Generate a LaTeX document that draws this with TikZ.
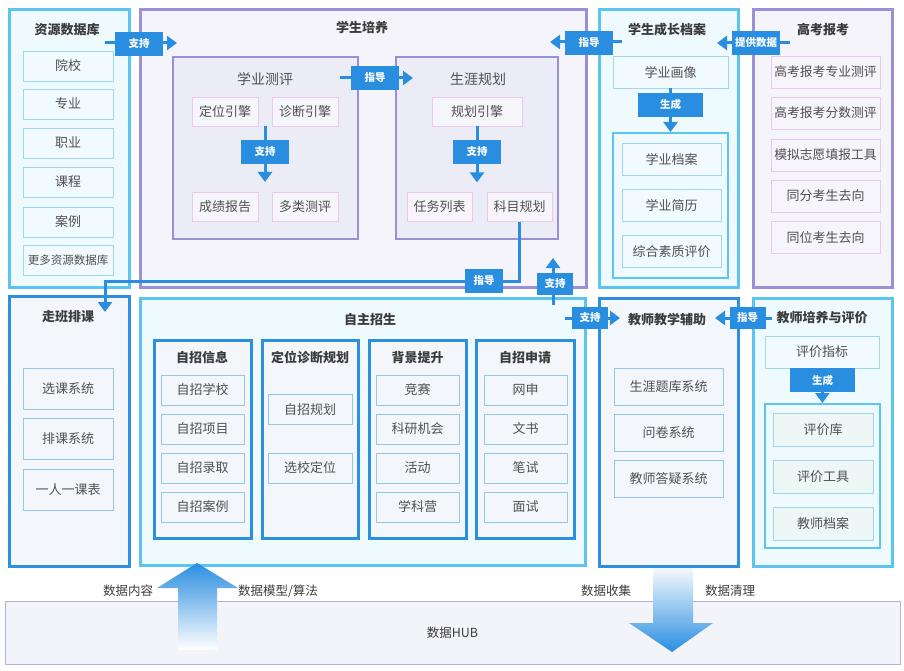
\documentclass[tikz,border=0pt]{standalone}
\usepackage{fontspec}
\setmainfont{Noto Sans CJK SC}
\usetikzlibrary{arrows.meta, positioning, calc}
\definecolor{skyline}{RGB}{91, 197, 242}
\definecolor{skyfill}{RGB}{238, 250, 254}
\definecolor{skyitem}{RGB}{160, 214, 242}
\definecolor{skyitemfill}{RGB}{241, 250, 254}
\definecolor{deepline}{RGB}{44, 143, 224}
\definecolor{deepfill}{RGB}{243, 247, 252}
\definecolor{deepitem}{RGB}{150, 198, 238}
\definecolor{violetline}{RGB}{154, 144, 216}
\definecolor{violetfill}{RGB}{244, 244, 250}
\definecolor{violetinner}{RGB}{236, 236, 246}
\definecolor{pinkline}{RGB}{234, 201, 238}
\definecolor{pinkfill}{RGB}{246, 245, 251}
\definecolor{mintfill}{RGB}{236, 247, 246}
\definecolor{tagblue}{RGB}{42, 142, 224}
\definecolor{textgray}{RGB}{80, 80, 80}
\definecolor{titlegray}{RGB}{60, 60, 60}
\definecolor{hubline}{RGB}{182, 176, 224}
\definecolor{hubfill}{RGB}{243, 243, 250}

\begin{document}
\begin{tikzpicture}[x=1pt, y=-1pt,
    box/.style={rectangle, inner sep=0pt},
    skypanel/.style={box, draw=skyline, fill=skyfill, line width=3pt},
    deeppanel/.style={box, draw=deepline, fill=deepfill, line width=3pt},
    violetpanel/.style={box, draw=violetline, fill=violetfill, line width=3pt},
    violetsub/.style={box, draw=violetline, fill=violetinner, line width=2.5pt},
    skysub/.style={box, draw=skyline, fill=skyfill, line width=2pt},
    deepsub/.style={box, draw=deepline, fill=deepfill, line width=3pt},
    itemtext/.style={text=textgray, font=\fontsize{13}{15}\selectfont},
    pinkitem/.style={box, itemtext, draw=pinkline, fill=pinkfill, line width=0.8pt},
    skyitembox/.style={box, itemtext, draw=skyitem, fill=skyitemfill, line width=0.8pt},
    deepitembox/.style={box, itemtext, draw=deepitem, fill=deepfill, line width=0.8pt},
    heading/.style={text=titlegray, font=\fontsize{13}{15}\selectfont\bfseries},
    subheading/.style={text=textgray, font=\fontsize{14}{16}\selectfont},
    tag/.style={box, fill=tagblue, text=white, font=\fontsize{10.5}{12}\selectfont\bfseries,
        minimum width=48, minimum height=24},
    smalltag/.style={tag, minimum width=36, minimum height=22},
    link/.style={draw=tagblue, line width=3pt, -{Triangle[length=10pt, width=14pt]}},
    note/.style={text=titlegray, font=\fontsize{12.5}{14}\selectfont}]
    \useasboundingbox (0,0) rectangle (904,671);

    % Resource database
    \node[skypanel, minimum width=120, minimum height=277] (res) at (69,148.5) {};
    \node[heading] (resT) at (67,30) {资源数据库};
    \node[skyitembox, minimum width=90, minimum height=30] (r1) at (68,66) {院校};
    \node[skyitembox, minimum width=90, minimum height=30] (r2) at (68,104) {专业};
    \node[skyitembox, minimum width=90, minimum height=30] (r3) at (68,143) {职业};
    \node[skyitembox, minimum width=90, minimum height=30] (r4) at (68,182) {课程};
    \node[skyitembox, minimum width=90, minimum height=30] (r5) at (68,222) {案例};
    \node[skyitembox, minimum width=90, minimum height=30, font=\fontsize{11.5}{13}\selectfont] (r6) at (68,260.5) {更多资源数据库};

    % Student training
    \node[violetpanel, minimum width=446, minimum height=277] (train) at (363,148.5) {};
    \node[heading] (trainT) at (362,28) {学生培养};
    \node[violetsub, minimum width=185, minimum height=182] (eval) at (265.5,148) {};
    \node[subheading] (evalT) at (265,79) {学业测评};
    \node[pinkitem, minimum width=66, minimum height=29] (e1) at (225,111.5) {定位引擎};
    \node[pinkitem, minimum width=66, minimum height=29] (e2) at (305,111.5) {诊断引擎};
    \node[pinkitem, minimum width=66, minimum height=29] (e3) at (225,207) {成绩报告};
    \node[pinkitem, minimum width=66, minimum height=29] (e4) at (305,207) {多类测评};
    \node[violetsub, minimum width=162, minimum height=182] (plan) at (477,148) {};
    \node[subheading] (planT) at (478,79) {生涯规划};
    \node[pinkitem, minimum width=90, minimum height=29] (p1) at (477,111.5) {规划引擎};
    \node[pinkitem, minimum width=65, minimum height=29] (p2) at (439.5,207) {任务列表};
    \node[pinkitem, minimum width=65, minimum height=29] (p3) at (519.5,207) {科目规划};

    % Growth record
    \node[skypanel, minimum width=139, minimum height=277] (grow) at (668.5,148.5) {};
    \node[heading] (growT) at (667,30) {学生成长档案};
    \node[skyitembox, minimum width=115, minimum height=32] (g0) at (670.5,72) {学业画像};
    \node[skysub, minimum width=115, minimum height=145] (gin) at (670.5,205.5) {};
    \node[skyitembox, minimum width=99, minimum height=32] (g1) at (671.5,159) {学业档案};
    \node[skyitembox, minimum width=99, minimum height=32] (g2) at (671.5,205) {学业简历};
    \node[skyitembox, minimum width=99, minimum height=32] (g3) at (671.5,251.5) {综合素质评价};

    % Gaokao application
    \node[violetpanel, minimum width=139, minimum height=277] (gk) at (822.5,148.5) {};
    \node[heading] (gkT) at (823,30) {高考报考};
    \node[pinkitem, minimum width=109, minimum height=32, font=\fontsize{12.8}{15}\selectfont] (k1) at (825.5,72) {高考报考专业测评};
    \node[pinkitem, minimum width=109, minimum height=32, font=\fontsize{12.8}{15}\selectfont] (k2) at (825.5,113) {高考报考分数测评};
    \node[pinkitem, minimum width=109, minimum height=32, font=\fontsize{12.8}{15}\selectfont] (k3) at (825.5,155) {模拟志愿填报工具};
    \node[pinkitem, minimum width=109, minimum height=32] (k4) at (825.5,196) {同分考生去向};
    \node[pinkitem, minimum width=109, minimum height=32] (k5) at (825.5,237.5) {同位考生去向};

    % Course scheduling
    \node[deeppanel, minimum width=120, minimum height=270] (zb) at (69,431) {};
    \node[heading] (zbT) at (68,317) {走班排课};
    \node[deepitembox, minimum width=90, minimum height=41] (z1) at (68,388.5) {选课系统};
    \node[deepitembox, minimum width=90, minimum height=41] (z2) at (68,439) {排课系统};
    \node[deepitembox, minimum width=90, minimum height=41] (z3) at (68,489.5) {一人一课表};

    % Independent enrollment
    \node[skypanel, minimum width=445, minimum height=267] (zz) at (362.5,431.5) {};
    \node[heading] (zzT) at (370,320) {自主招生};
    \node[deepsub, minimum width=97, minimum height=198] (info) at (202.5,439) {};
    \node[heading] (infoT) at (202,358) {自招信息};
    \node[deepitembox, minimum width=83, minimum height=30] (i1) at (202.5,390) {自招学校};
    \node[deepitembox, minimum width=83, minimum height=30] (i2) at (202.5,429) {自招项目};
    \node[deepitembox, minimum width=83, minimum height=30] (i3) at (202.5,468) {自招录取};
    \node[deepitembox, minimum width=83, minimum height=30] (i4) at (202.5,507) {自招案例};
    \node[deepsub, minimum width=96, minimum height=198] (pos) at (310,439) {};
    \node[heading] (posT) at (310,358) {定位诊断规划};
    \node[deepitembox, minimum width=84, minimum height=30] (o1) at (310,409.5) {自招规划};
    \node[deepitembox, minimum width=84, minimum height=30] (o2) at (310,468) {选校定位};
    \node[deepsub, minimum width=97, minimum height=198] (bg) at (417.5,439) {};
    \node[heading] (bgT) at (417.5,358) {背景提升};
    \node[deepitembox, minimum width=83, minimum height=30] (b1) at (417.5,390) {竞赛};
    \node[deepitembox, minimum width=83, minimum height=30] (b2) at (417.5,429) {科研机会};
    \node[deepitembox, minimum width=83, minimum height=30] (b3) at (417.5,468) {活动};
    \node[deepitembox, minimum width=83, minimum height=30] (b4) at (417.5,507) {学科营};
    \node[deepsub, minimum width=98, minimum height=198] (app) at (525,439) {};
    \node[heading] (appT) at (525,358) {自招申请};
    \node[deepitembox, minimum width=83, minimum height=30] (a1) at (525.5,390) {网申};
    \node[deepitembox, minimum width=83, minimum height=30] (a2) at (525.5,429) {文书};
    \node[deepitembox, minimum width=83, minimum height=30] (a3) at (525.5,468) {笔试};
    \node[deepitembox, minimum width=83, minimum height=30] (a4) at (525.5,507) {面试};

    % Teaching assistance
    \node[deeppanel, minimum width=139, minimum height=268] (teach) at (668.5,432) {};
    \node[heading] (teachT) at (667,320) {教师教学辅助};
    \node[deepitembox, minimum width=109, minimum height=37] (t1) at (668.5,386.5) {生涯题库系统};
    \node[deepitembox, minimum width=109, minimum height=37] (t2) at (668.5,432.5) {问卷系统};
    \node[deepitembox, minimum width=109, minimum height=37] (t3) at (668.5,479) {教师答疑系统};

    % Teacher evaluation
    \node[skypanel, minimum width=139, minimum height=268] (tev) at (822.5,432) {};
    \node[heading] (tevT) at (822,318) {教师培养与评价};
    \node[skyitembox, minimum width=114, minimum height=32] (v0) at (822,352) {评价指标};
    \node[skysub, minimum width=115, minimum height=144] (vin) at (822.5,476) {};
    \node[skyitembox, minimum width=100, minimum height=33, fill=mintfill] (v1) at (823,430) {评价库};
    \node[skyitembox, minimum width=100, minimum height=33, fill=mintfill] (v2) at (823,476.5) {评价工具};
    \node[skyitembox, minimum width=100, minimum height=33, fill=mintfill] (v3) at (823,523.5) {教师档案};

    % Connectors
    \coordinate (c1) at (105,43);
    \coordinate (c2) at (177,43);
    \draw[link] (c1) -- (c2);
    \node[tag] (tag1) at (139,44) {支持};

    \coordinate (c3) at (340,78);
    \coordinate (c4) at (413,78);
    \draw[link] (c3) -- (c4);
    \node[tag] (tag2) at (375,78) {指导};

    \coordinate (c5) at (265,126);
    \coordinate (c6) at (265,182);
    \draw[link] (c5) -- (c6);
    \node[tag] (tag3) at (265,152) {支持};

    \coordinate (c7) at (p1.south);
    \coordinate (c8) at ($(p1.south)+(0,56)$);
    \draw[link] (c7) -- (c8);
    \node[tag] (tag4) at (477,152) {支持};

    \coordinate (c9) at (622,42);
    \coordinate (c10) at (550,42);
    \draw[link] (c9) -- (c10);
    \node[tag] (tag5) at (589,43) {指导};

    \coordinate (c11) at (790,43);
    \coordinate (c12) at (717,43);
    \draw[link] (c11) -- (c12);
    \node[tag] (tag6) at (756,43) {提供数据};

    \draw[link] (g0.south) -- (gin.north);
    \node[tag, minimum width=65] (tag7) at (670.5,105) {生成};

    \draw[link] (v0.south) -- (vin.north);
    \node[tag, minimum width=65] (tag8) at (822.5,380) {生成};

    \coordinate (c13) at (772,318);
    \coordinate (c14) at (715,318);
    \draw[link] (c13) -- (c14);
    \node[smalltag] (tag9) at (747.5,318) {指导};

    \coordinate (c15) at (565,318);
    \coordinate (c16) at (620,318);
    \draw[link] (c15) -- (c16);
    \node[smalltag] (tag10) at (590,317.5) {支持};

    \coordinate (c17) at (553,305);
    \coordinate (c18) at (553,258);
    \draw[link] (c17) -- (c18);
    \node[smalltag] (tag11) at (555,284) {支持};

    \coordinate (c19) at (105,281);
    \coordinate (c20) at (105,312);
    \draw[link] (p3.south) |- (c19) -- (c20);
    \node[smalltag, minimum width=38, minimum height=24] (tag12) at (484,281) {指导};

    % Data hub
    \node[box, draw=hubline, fill=hubfill, line width=1pt, minimum width=895, minimum height=63,
        note] (hub) at (452.5,632.5) {数据HUB};
    \shade[top color=tagblue, bottom color=white]
        (178,650) -- (178,588) -- (157,588) -- (197,563) -- (238,588)
        -- (217,588) -- (217,650) -- cycle;
    \shade[top color=tagblue!5, bottom color=tagblue]
        (653,568) -- (693,568) -- (693,623) -- (713,623) -- (672,652)
        -- (629,623) -- (653,623) -- cycle;
    \node[note] (d1) at (128,591) {数据内容};
    \node[note] (d2) at (278,591) {数据模型/算法};
    \node[note] (d3) at (606,591) {数据收集};
    \node[note] (d4) at (730,591) {数据清理};
\end{tikzpicture}
\end{document}
